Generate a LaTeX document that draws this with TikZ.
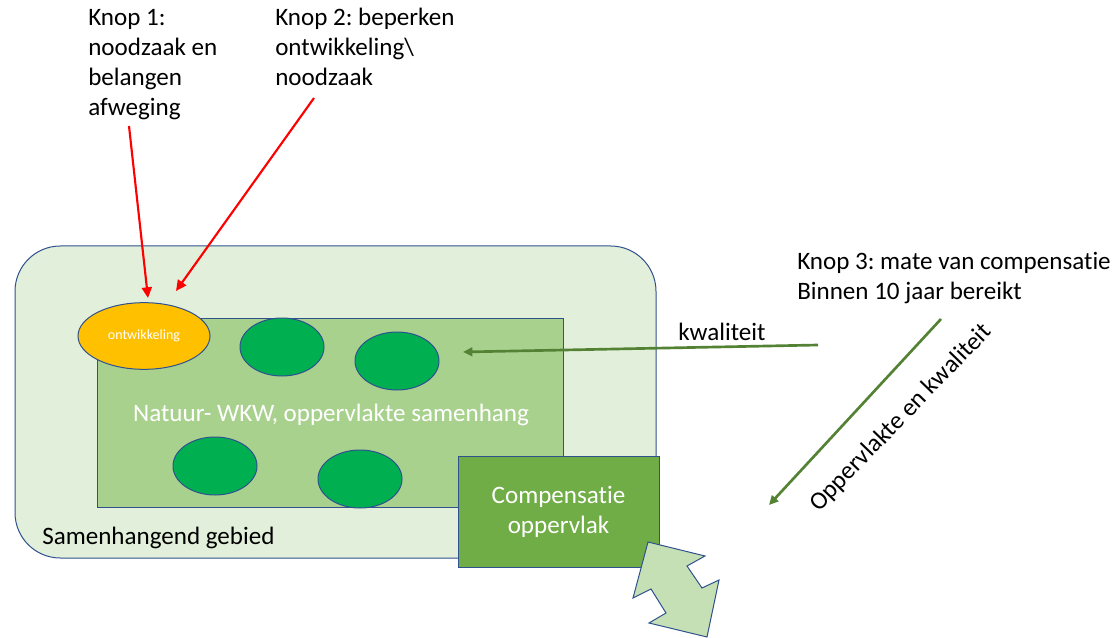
\documentclass[tikz,border=0pt]{standalone}
\usepackage{fontspec}
\setmainfont{Carlito}[Ligatures=CommonOff]
\usepackage{tikz}
\usetikzlibrary{shapes.geometric, arrows.meta, positioning}
\usepackage{xcolor}
\definecolor{edgeblue}{HTML}{2F528F}
\definecolor{areagreen}{HTML}{E2EFDA}
\definecolor{coregreen}{HTML}{A9D18E}
\definecolor{compgreen}{HTML}{70AD47}
\definecolor{palegreen}{HTML}{C5E0B4}
\definecolor{spotgreen}{HTML}{00B050}
\definecolor{devorange}{HTML}{FFC000}
\definecolor{arrowgreen}{HTML}{548235}
\definecolor{knopred}{HTML}{FF0000}
\frenchspacing
\tikzset{
  area/.style={rectangle, rounded corners=34pt, draw=edgeblue, line width=0.75pt,
               fill=areagreen, minimum width=480.75pt, minimum height=234pt},
  core/.style={rectangle, draw=edgeblue, line width=0.75pt, fill=coregreen,
               minimum width=349.5pt, minimum height=141.75pt},
  compBox/.style={rectangle, draw=edgeblue, line width=0.75pt, fill=compgreen,
                  minimum width=150.75pt, minimum height=83.25pt,
                  align=center, text=white},
  devEllipse/.style={ellipse, draw=edgeblue, line width=0.75pt, fill=devorange,
                     minimum width=99pt, minimum height=50pt, inner sep=0pt,
                     text=white, font=\fontsize{10.5}{12}\selectfont},
  natEllipse/.style={ellipse, draw=edgeblue, line width=0.75pt, fill=spotgreen,
                     minimum width=63pt, minimum height=43.5pt},
  knoplabel/.style={anchor=base west, inner sep=0pt, align=left},
  redarrow/.style={-{Triangle[length=8pt, width=7.5pt]}, line width=1.6pt, draw=knopred},
  greenarrow/.style={-{Triangle[length=7pt, width=6.5pt]}, line width=2pt, draw=arrowgreen},
  dblarrow/.style={draw=edgeblue, line width=0.75pt, fill=palegreen, line join=miter},
}

\begin{document}
\begin{tikzpicture}[x=0.75pt, y=-0.75pt,
  every node/.style={font=\fontsize{18.8}{22.5}\selectfont},
]
  \useasboundingbox (0,0) rectangle (1118,638);

  % gebied en natuurkern
  \node[area] (gebied) at (335.5,402) {};
  \node[core] (natuur) at (330,412.5) {};
  \node[anchor=base, text=white, inner sep=0pt] (natuurtxt) at (331,421)
    {Natuur- WKW, oppervlakte samenhang};
  \node[anchor=base west, inner sep=0pt] (gebiedtxt) at (42,544) {Samenhangend gebied};

  % natuurwaarden
  \node[natEllipse] (n1) at (282,347) {};
  \node[natEllipse] (n2) at (397,361) {};
  \node[natEllipse] (n3) at (215,466) {};
  \node[natEllipse] (n4) at (360,479) {};
  \node[devEllipse] (ontw) at (144,336) {ontwikkeling};

  % compensatie
  \node[compBox] (comp) at (558.5,511.5) {Compensatie\\oppervlak};
  \draw[dblarrow] (648,542) -- (705,556) -- (687,566) -- (702,588) -- (719,580)
    -- (707,637) -- (649,623) -- (666,613) -- (651,589) -- (633,598) -- cycle;

  % knoppen (base = laatste regel)
  \node[knoplabel] (knop1) at (88,116) {Knop 1:\\noodzaak en\\belangen\\afweging};
  \node[knoplabel] (knop2) at (275,86) {Knop 2: beperken\\ontwikkeling\textbackslash\\noodzaak};
  \node[knoplabel] (knop3) at (797,300) {Knop 3: mate van compensatie\\Binnen 10 jaar bereikt};

  \coordinate (k1start) at (129,126);
  \coordinate (k1end) at (148,298);
  \coordinate (k2start) at (314,98);
  \coordinate (k2end) at (176,291);
  \draw[redarrow] (k1start) -- (k1end);
  \draw[redarrow] (k2start) -- (k2end);

  \coordinate (kwstart) at (818,345);
  \coordinate (kwend) at (463,352);
  \draw[greenarrow] (kwstart) -- (kwend);
  \node[anchor=base west, inner sep=0pt] (kwal) at (678,340) {kwaliteit};

  \coordinate (opstart) at (941,319);
  \coordinate (opend) at (769,505);
  \draw[greenarrow] (opstart) -- (opend);
  \node[rotate=46, inner sep=0pt] (opp) at (901,418) {Oppervlakte en kwaliteit};
\end{tikzpicture}
\end{document}
